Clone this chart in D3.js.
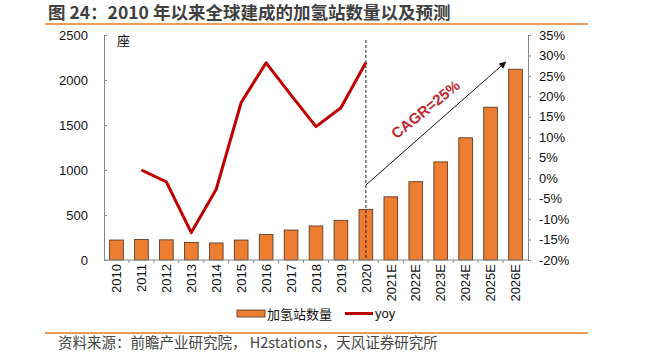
<!DOCTYPE html>
<html><head><meta charset="utf-8">
<script src="https://cdn.jsdelivr.net/npm/d3@7/dist/d3.min.js"></script>
<style>
body{margin:0;background:#fff;}
svg{display:block;font-family:"Liberation Sans",Arial,sans-serif;}
</style></head>
<body>
<svg id="c" width="647" height="362"></svg>
<script>
const categories = ["2010","2011","2012","2013","2014","2015","2016","2017","2018","2019","2020","2021E","2022E","2023E","2024E","2025E","2026E"];
const stations = [222, 228, 224, 196, 189, 222, 285, 333, 378, 441, 563, 702, 870, 1090, 1358, 1698, 2120];
const yoyCats = ["2011","2012","2013","2014","2015","2016","2017","2018","2019","2020"];
const yoy = [2.0, -0.9, -13.3, -2.7, 18.5, 28.2, 20.3, 12.6, 17.2, 28.3];
const leftTicks = [0, 500, 1000, 1500, 2000, 2500];
const rightTicks = [-20, -15, -10, -5, 0, 5, 10, 15, 20, 25, 30, 35];
const titleText = "图 24：2010 年以来全球建成的加氢站数量以及预测";
const sourceText = "资料来源：前瞻产业研究院， H2stations，天风证券研究所";
const cagrText = "CAGR=25%";

const svg = d3.select("#c");
const cjk = '"Noto Sans CJK SC","Noto Sans",sans-serif';
const L = 104, R = 528, T = 35, B = 260;

// title & rules
svg.append("text").attr("x", 48).attr("y", 19).attr("font-family", cjk)
  .attr("font-weight", "bold").attr("font-size", 17.5).attr("fill", "#404040").text(titleText);
svg.append("line").attr("x1", 45).attr("x2", 588).attr("y1", 24).attr("y2", 24)
  .attr("stroke", "#eb9b55").attr("stroke-width", 2);
svg.append("line").attr("x1", 45).attr("x2", 588).attr("y1", 333).attr("y2", 333)
  .attr("stroke", "#eb9b55").attr("stroke-width", 2);
svg.append("text").attr("x", 58).attr("y", 348).attr("font-family", cjk)
  .attr("font-size", 14.5).attr("fill", "#444").text(sourceText);

const x = d3.scaleBand().domain(categories).range([L, R]).paddingInner(0.45).paddingOuter(0.225);
const yL = d3.scaleLinear().domain([0, 2500]).range([B, T]);
const yR = d3.scaleLinear().domain([-20, 35]).range([B, T]);

// bars
svg.append("g").selectAll("rect").data(categories).join("rect")
  .attr("x", d => x(d)).attr("width", x.bandwidth())
  .attr("y", (d, i) => yL(stations[i])).attr("height", (d, i) => B - yL(stations[i]))
  .attr("fill", "#ed7d31").attr("stroke", "#4a3020").attr("stroke-width", 0.8);

// dashed vertical line at 2020
const x2020 = x("2020") + x.bandwidth() / 2;
svg.append("line").attr("x1", x2020).attr("x2", x2020).attr("y1", 40).attr("y2", B)
  .attr("stroke", "#222").attr("stroke-width", 1).attr("stroke-dasharray", "3,2");

// yoy line
const line = d3.line().x(d => x(d[0]) + x.bandwidth() / 2).y(d => yR(d[1]));
svg.append("path").datum(yoyCats.map((c, i) => [c, yoy[i]]))
  .attr("d", line).attr("fill", "none").attr("stroke", "#c00000").attr("stroke-width", 3)
  .attr("stroke-linejoin", "round");

// axes
const axL = svg.append("g").attr("transform", `translate(${L},0)`)
  .call(d3.axisLeft(yL).tickValues(leftTicks).tickFormat(d3.format("d")).tickSize(-3).tickPadding(16).tickSizeOuter(0));
const axR = svg.append("g").attr("transform", `translate(${R},0)`)
  .call(d3.axisRight(yR).tickValues(rightTicks).tickFormat(d => d + "%").tickSize(3).tickPadding(8).tickSizeOuter(0));
[axL, axR].forEach(a => {
  a.select(".domain").attr("stroke", "#888");
  a.selectAll(".tick line").attr("stroke", "#888");
  a.selectAll("text").attr("font-size", 13).attr("fill", "#111")
    .attr("font-family", '"Liberation Sans",Arial,sans-serif');
});

const axB = svg.append("g").attr("transform", `translate(0,${B})`)
  .call(d3.axisBottom(x).tickSize(0).tickPadding(0));
axB.select(".domain").attr("stroke", "#888").attr("d", `M${L},0H${R}`);
axB.selectAll("text").attr("transform", "rotate(-90)").attr("text-anchor", "end")
  .attr("x", -4).attr("y", 0).attr("dy", "0.36em").attr("font-size", 13).attr("fill", "#111")
  .attr("font-family", '"Liberation Sans",Arial,sans-serif');
// separator ticks between bands
const step = x.step();
svg.append("g").selectAll("line").data(categories.slice(1)).join("line")
  .attr("x1", d => x(d) - step * 0.225).attr("x2", d => x(d) - step * 0.225)
  .attr("y1", B).attr("y2", B + 3).attr("stroke", "#888");

// unit label
svg.append("text").attr("x", 117).attr("y", 45).attr("font-family", cjk)
  .attr("font-size", 13).attr("fill", "#111").text("座");

// CAGR arrow
const defs = svg.append("defs");
defs.append("marker").attr("id", "ah").attr("viewBox", "0 0 10 10").attr("refX", 9).attr("refY", 5)
  .attr("markerWidth", 7).attr("markerHeight", 7).attr("orient", "auto")
  .append("path").attr("d", "M0,0L10,5L0,10z").attr("fill", "#111");
const ax1 = x2020, ay1 = yL(833);
const ax2 = x("2026E") - 3, ay2 = yL(2200);
svg.append("line").attr("x1", ax1).attr("y1", ay1).attr("x2", ax2).attr("y2", ay2)
  .attr("stroke", "#111").attr("stroke-width", 1).attr("marker-end", "url(#ah)");
svg.append("text").attr("transform", `translate(${(ax1 + ax2) / 2 - 7},${(ay1 + ay2) / 2 - 10}) rotate(-39)`)
  .attr("text-anchor", "middle").attr("font-family", '"Liberation Sans",Arial,sans-serif')
  .attr("font-weight", "bold").attr("font-size", 15).attr("fill", "#c0272d").text(cagrText);

// legend
const lg = svg.append("g");
lg.append("rect").attr("x", 237).attr("y", 310).attr("width", 28).attr("height", 7)
  .attr("fill", "#ed7d31").attr("stroke", "#4a3020").attr("stroke-width", 0.8);
lg.append("text").attr("x", 267).attr("y", 318.5).attr("font-family", cjk).attr("font-size", 13)
  .attr("fill", "#111").text("加氢站数量");
lg.append("line").attr("x1", 345).attr("x2", 373).attr("y1", 313.5).attr("y2", 313.5)
  .attr("stroke", "#c00000").attr("stroke-width", 3);
lg.append("text").attr("x", 375).attr("y", 318).attr("font-size", 13).attr("fill", "#111").text("yoy");
</script>
</body></html>
